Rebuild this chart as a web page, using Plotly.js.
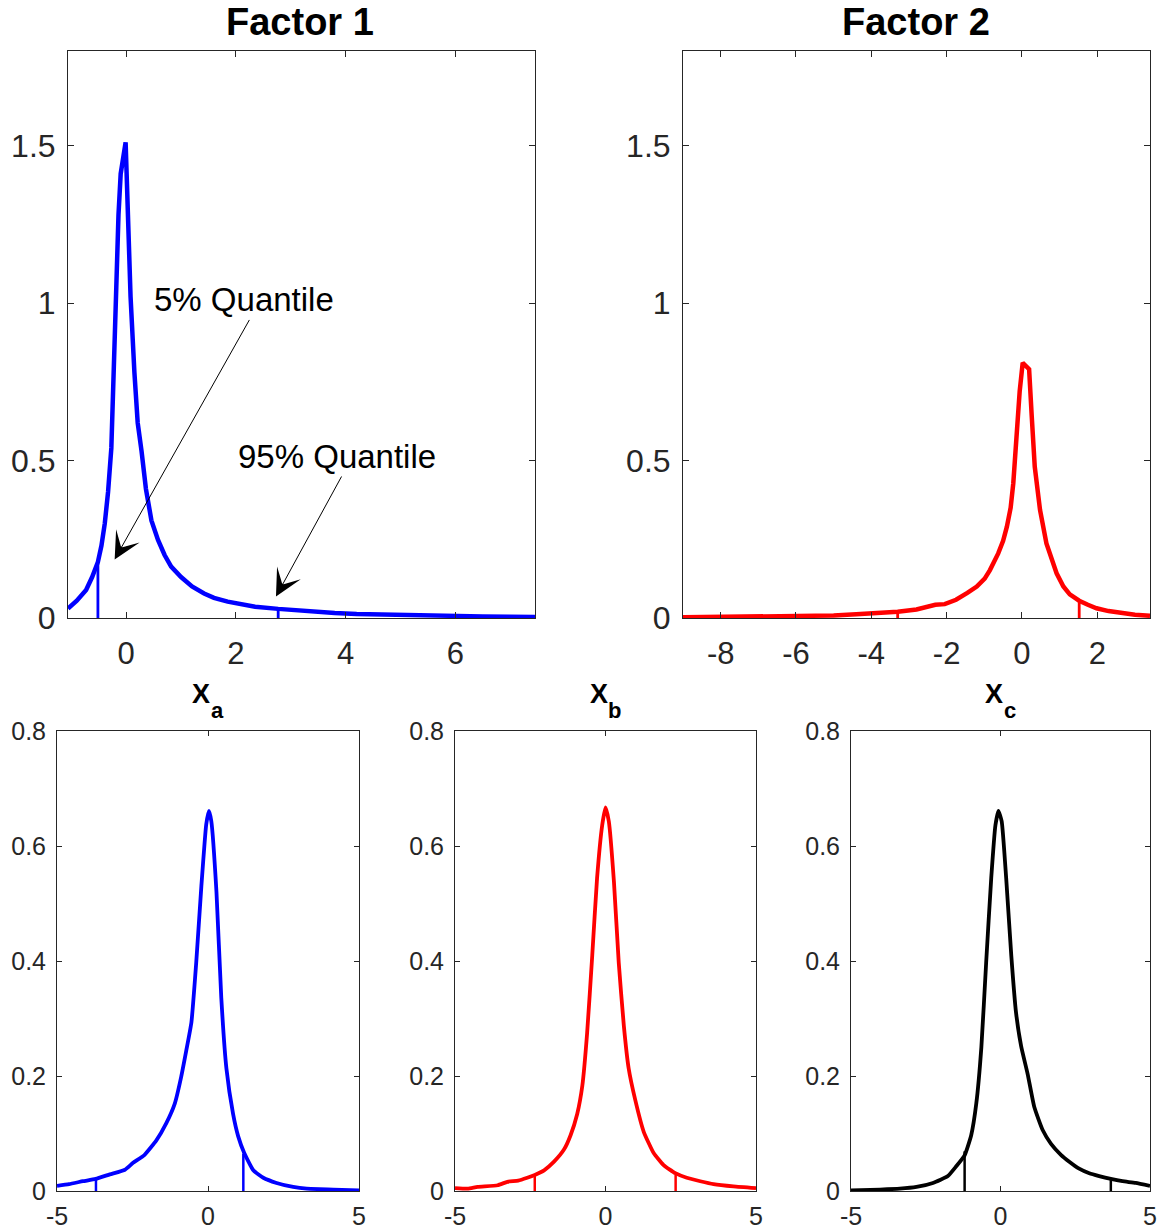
<!DOCTYPE html>
<html>
<head>
<meta charset="utf-8">
<script src="https://cdn.plot.ly/plotly-3.0.1.min.js"></script>
<style>
  html, body { margin: 0; padding: 0; background: #ffffff; }
  #chart { width: 1160px; height: 1232px; }
</style>
</head>
<body>
<div id="chart"></div>
<script>
// ---- Factor 1 density ----
const f1X = [-1.06, -0.9, -0.73, -0.62, -0.515, -0.45, -0.39, -0.33, -0.27, -0.22, -0.18, -0.14, -0.10, -0.01, 0.0, 0.04, 0.08, 0.15, 0.21, 0.28, 0.36, 0.46, 0.58, 0.7, 0.82, 1.0, 1.2, 1.42, 1.6, 1.85, 2.1, 2.35, 2.77, 3.1, 3.4, 3.8, 4.2, 4.6, 5.0, 5.5, 6.0, 6.5, 7.0, 7.45];
const f1Y = [0.03, 0.055, 0.089, 0.13, 0.178, 0.23, 0.3, 0.4, 0.54, 0.78, 1.05, 1.28, 1.41, 1.51, 1.46, 1.2, 1.02, 0.78, 0.62, 0.53, 0.41, 0.31, 0.248, 0.2, 0.163, 0.13, 0.1, 0.078, 0.064, 0.052, 0.043, 0.036, 0.029, 0.024, 0.02, 0.016, 0.013, 0.011, 0.009, 0.007, 0.006, 0.005, 0.004, 0.003];
const f1Quant = [-0.515, 2.77];
const f1QuantH = [0.178, 0.029];

// ---- Factor 2 density ----
const f2X = [-9, -8, -7, -6, -5, -4.4, -4, -3.3, -2.8, -2.5, -2.3, -2.05, -1.75, -1.45, -1.2, -0.99, -0.85, -0.63, -0.5, -0.4, -0.3, -0.23, -0.14, -0.06, 0.02, 0.1, 0.19, 0.26, 0.34, 0.48, 0.65, 0.92, 1.1, 1.27, 1.52, 1.75, 1.98, 2.3, 2.6, 3.0, 3.4];
const f2Y = [0.002, 0.003, 0.004, 0.005, 0.008, 0.012, 0.014, 0.02, 0.027, 0.037, 0.042, 0.044, 0.058, 0.08, 0.1, 0.125, 0.152, 0.205, 0.245, 0.29, 0.35, 0.428, 0.586, 0.72, 0.81, 0.8, 0.79, 0.64, 0.48, 0.343, 0.237, 0.142, 0.1, 0.075, 0.055, 0.042, 0.031, 0.022, 0.016, 0.01, 0.007];
const f2Quant = [-3.3, 1.52];
const f2QuantH = [0.02, 0.055];

// ---- X_a density ----
const xaX = [-5, -4.6, -4.14, -3.72, -3.25, -2.75, -2.48, -2.1, -1.71, -1.38, -1.1, -0.89, -0.72, -0.55, -0.39, -0.22, -0.06, 0.03, 0.11, 0.28, 0.44, 0.61, 0.83, 1.0, 1.2, 1.5, 1.83, 2.27, 2.82, 3.27, 4.15, 5];
const xaY = [0.009, 0.012, 0.017, 0.021, 0.029, 0.037, 0.049, 0.063, 0.088, 0.118, 0.152, 0.198, 0.244, 0.293, 0.397, 0.53, 0.637, 0.661, 0.643, 0.52, 0.336, 0.213, 0.134, 0.095, 0.066, 0.036, 0.023, 0.014, 0.007, 0.004, 0.0025, 0.001];
const xaQuant = [-3.71, 1.17];
const xaQuantH = [0.021, 0.065];

// ---- X_b density ----
const xbX = [-5, -4.58, -4.25, -3.58, -3.26, -2.9, -2.6, -2.35, -2.04, -1.71, -1.38, -1.16, -0.94, -0.77, -0.61, -0.44, -0.28, -0.11, 0, 0.11, 0.28, 0.44, 0.61, 0.77, 0.99, 1.27, 1.6, 1.93, 2.32, 2.7, 3.15, 3.59, 4.25, 5];
const xbY = [0.005, 0.004, 0.007, 0.01, 0.016, 0.018, 0.023, 0.028, 0.036, 0.051, 0.072, 0.097, 0.134, 0.183, 0.275, 0.41, 0.544, 0.636, 0.667, 0.643, 0.538, 0.397, 0.287, 0.213, 0.158, 0.103, 0.066, 0.045, 0.031, 0.023, 0.017, 0.012, 0.008, 0.005];
const xbQuant = [-2.35, 2.33];
const xbQuantH = [0.029, 0.029];

// ---- X_c density ----
const xcX = [-5, -4.03, -3.37, -2.81, -2.26, -1.76, -1.48, -1.2, -0.98, -0.81, -0.64, -0.48, -0.31, -0.17, -0.07, 0.04, 0.19, 0.36, 0.52, 0.69, 0.91, 1.13, 1.41, 1.69, 2.02, 2.3, 2.63, 2.97, 3.3, 3.69, 4.08, 4.52, 5];
const xcY = [0.001, 0.0025, 0.004, 0.007, 0.014, 0.026, 0.043, 0.062, 0.097, 0.152, 0.25, 0.397, 0.544, 0.636, 0.661, 0.643, 0.544, 0.41, 0.31, 0.252, 0.203, 0.146, 0.106, 0.082, 0.063, 0.051, 0.039, 0.031, 0.026, 0.021, 0.017, 0.014, 0.009];
const xcQuant = [-1.2, 3.69];
const xcQuantH = [0.069, 0.019];

// ---- tick labels ----
const f1TickVals = [0, 2, 4, 6];
const f1TickText = ['0', '2', '4', '6'];
const f2TickVals = [-8, -6, -4, -2, 0, 2];
const f2TickText = ['-8', '-6', '-4', '-2', '0', '2'];
const topYTickVals = [0, 0.5, 1, 1.5];
const topYTickText = ['0', '0.5', '1', '1.5'];
const botXTickVals = [-5, 0, 5];
const botXTickText = ['-5', '0', '5'];
const botYTickVals = [0, 0.2, 0.4, 0.6, 0.8];
const botYTickText = ['0', '0.2', '0.4', '0.6', '0.8'];

// ---- panel titles ----
const topTitles = ['Factor 1', 'Factor 2'];
const botTitleMain = 'X';
const botTitleSubs = ['a', 'b', 'c'];

const FONT = '"Liberation Sans", Arial, Helvetica, sans-serif';
const AXC = '#262626';
const W = 1160, H = 1232;

function px(x) { return x / W; }
function py(y) { return 1 - y / H; }

function curve(x, y, color, width, ax, shape) {
  return {
    x: x, y: y, type: 'scatter', mode: 'lines',
    line: { color: color, width: width, shape: shape || 'linear', smoothing: 0.45 },
    xaxis: ax[0], yaxis: ax[1], hoverinfo: 'skip'
  };
}

function quantLines(q, h, color, width, ax) {
  return q.map((v, i) => ({
    x: [v, v], y: [0, h[i]], type: 'scatter', mode: 'lines',
    line: { color: color, width: width },
    xaxis: ax[0], yaxis: ax[1], hoverinfo: 'skip'
  }));
}

function axis(domain, range, vals, text, size, tlen, anchor, standoff) {
  return {
    domain: domain, range: range, anchor: anchor,
    tickmode: 'array', tickvals: vals, ticktext: text,
    ticks: 'inside', ticklen: tlen, tickwidth: 1, tickcolor: AXC,
    showline: true, linecolor: AXC, linewidth: 1, mirror: 'allticks',
    showgrid: false, zeroline: false, fixedrange: true,
    tickfont: { family: FONT, size: size, color: AXC },
    ticklabelstandoff: standoff
  };
}

const traces = [
  curve(f1X, f1Y, '#0000ff', 4.5, ['x', 'y']),
  ...quantLines(f1Quant, f1QuantH, '#0000ff', 2.8, ['x', 'y']),
  curve(f2X, f2Y, '#ff0000', 4.5, ['x2', 'y2']),
  ...quantLines(f2Quant, f2QuantH, '#ff0000', 2.8, ['x2', 'y2']),
  curve(xaX, xaY, '#0000ff', 3.8, ['x3', 'y3'], 'spline'),
  ...quantLines(xaQuant, xaQuantH, '#0000ff', 2.5, ['x3', 'y3']),
  curve(xbX, xbY, '#ff0000', 3.8, ['x4', 'y4'], 'spline'),
  ...quantLines(xbQuant, xbQuantH, '#ff0000', 2.5, ['x4', 'y4']),
  curve(xcX, xcY, '#000000', 3.8, ['x5', 'y5'], 'spline'),
  ...quantLines(xcQuant, xcQuantH, '#000000', 2.5, ['x5', 'y5'])
];

const topY = [py(618), py(51)];
const botY = [py(1191), py(731)];

// bottom panel centres (px) used to place the X_a / X_b / X_c headings
const botCentres = [208, 605.5, 1000.5];

function titleAnn(text, xPix, yPix, size) {
  return { text: text, xref: 'paper', yref: 'paper', x: px(xPix), y: py(yPix),
           xanchor: 'center', yanchor: 'middle', showarrow: false,
           font: { family: FONT, size: size, color: '#000000', weight: 'bold' } };
}

const annotations = [
  titleAnn(topTitles[0], 300, 22, 38),
  titleAnn(topTitles[1], 916, 22, 38)
];
botCentres.forEach((c, i) => {
  annotations.push(titleAnn(botTitleMain, c - 7, 694, 27));
  annotations.push(titleAnn(botTitleSubs[i], c + 9, 710, 22));
});
annotations.push(
  { text: '5% Quantile', xref: 'x', yref: 'y', x: 0.47, y: 1.01, xanchor: 'left', yanchor: 'middle', showarrow: false, font: { family: FONT, size: 33, color: '#000000' } },
  { text: '95% Quantile', xref: 'x', yref: 'y', x: 2.0, y: 0.512, xanchor: 'left', yanchor: 'middle', showarrow: false, font: { family: FONT, size: 33, color: '#000000' } },
  { text: '', xref: 'x', yref: 'y', axref: 'x', ayref: 'y', x: -0.21, y: 0.186, ax: 2.26, ay: 0.951, showarrow: true, arrowhead: 3, arrowsize: 4.5, arrowwidth: 1, arrowcolor: '#000000', standoff: 0, startstandoff: 0 },
  { text: '', xref: 'x', yref: 'y', axref: 'x', ayref: 'y', x: 2.73, y: 0.068, ax: 3.94, ay: 0.454, showarrow: true, arrowhead: 3, arrowsize: 4.5, arrowwidth: 1, arrowcolor: '#000000', standoff: 0, startstandoff: 0 }
);

const layout = {
  width: W, height: H,
  margin: { l: 0, r: 0, t: 0, b: 0, pad: 0 },
  paper_bgcolor: '#ffffff', plot_bgcolor: '#ffffff',
  showlegend: false,
  font: { family: FONT, color: AXC },
  xaxis: axis([px(68), px(535)], [-1.06, 7.45], f1TickVals, f1TickText, 31, 6, 'y', 8),
  yaxis: axis(topY, [0, 1.8], topYTickVals, topYTickText, 32, 6, 'x', 5),
  xaxis2: axis([px(683), px(1150)], [-9, 3.4], f2TickVals, f2TickText, 31, 6, 'y2', 8),
  yaxis2: axis(topY, [0, 1.8], topYTickVals, topYTickText, 32, 6, 'x2', 5),
  xaxis3: axis([px(57), px(359)], [-5, 5], botXTickVals, botXTickText, 25, 5, 'y3', 3),
  yaxis3: axis(botY, [0, 0.8], botYTickVals, botYTickText, 25, 5, 'x3', 5),
  xaxis4: axis([px(455), px(756)], [-5, 5], botXTickVals, botXTickText, 25, 5, 'y4', 3),
  yaxis4: axis(botY, [0, 0.8], botYTickVals, botYTickText, 25, 5, 'x4', 5),
  xaxis5: axis([px(851), px(1150)], [-5, 5], botXTickVals, botXTickText, 25, 5, 'y5', 3),
  yaxis5: axis(botY, [0, 0.8], botYTickVals, botYTickText, 25, 5, 'x5', 5),
  annotations: annotations
};

Plotly.newPlot('chart', traces, layout, { displayModeBar: false, staticPlot: true });
</script>
</body>
</html>
